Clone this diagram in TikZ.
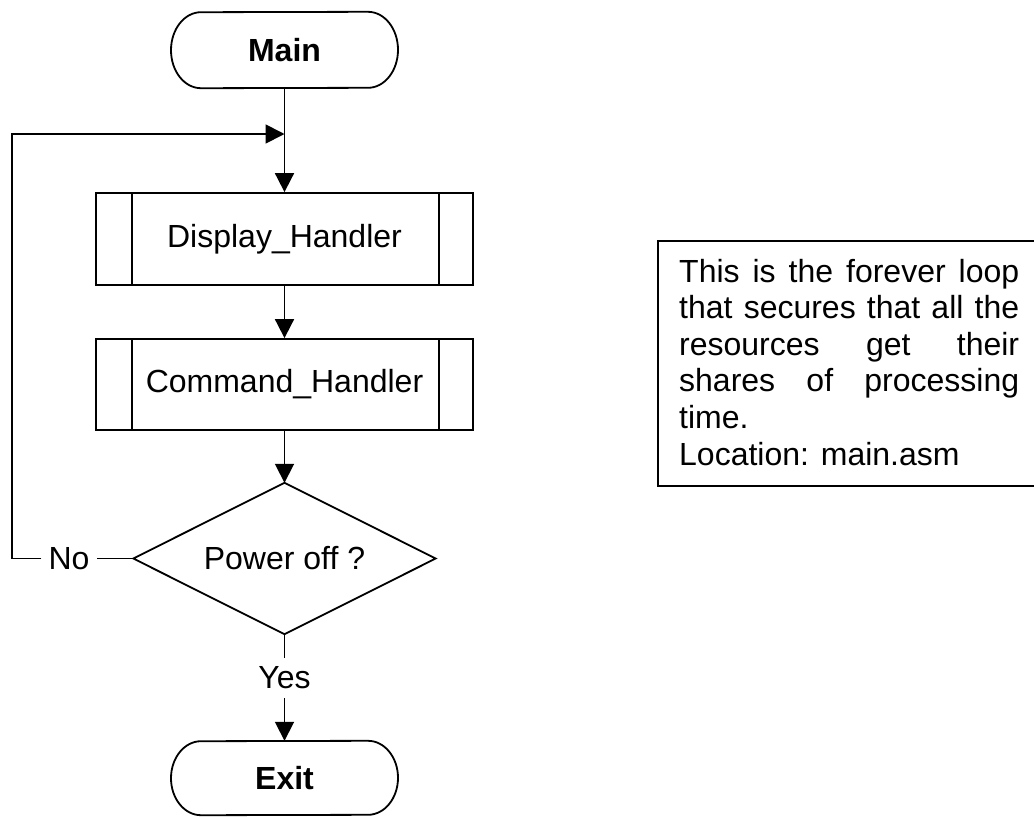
\documentclass[tikz,border=0pt]{standalone}
\usepackage{fontspec}
\setmainfont{Liberation Sans}
\usetikzlibrary{arrows.meta}

% outline of a start/end terminal: straight top and bottom, elliptic ends
\newcommand\termoutline[3]{%
  \draw[line] ([xshift=-#2pt]#1.south) arc[start angle=90,end angle=270,x radius=30,y radius=#3]
    -- ([xshift=#2pt]#1.north) arc[start angle=-90,end angle=90,x radius=30,y radius=#3] -- cycle;}

\begin{document}
\begin{tikzpicture}[x=1pt,y=-1pt,
  line/.style={line width=1.8pt, line join=miter},
  flow/.style={line, -{Triangle[length=19pt,width=19pt]}},
  txt/.style={font=\fontsize{32}{38}\selectfont, inner sep=0pt},
  term/.style={txt, font=\fontsize{32}{38}\selectfont\bfseries, minimum width=227pt},
  proc/.style={txt, draw, line, minimum width=377pt},
  notetext/.style={font=\fontsize{32}{38}\selectfont, inner sep=0pt, anchor=base west}
]
\useasboundingbox (0,0) rectangle (1034,817);

% terminals
\node[term, minimum height=76pt] (main) at (284.5,50) {Main};
\termoutline{main}{83.5}{38}
\node[term, minimum height=74pt] (exit) at (284.5,778) {Exit};
\termoutline{exit}{83.5}{37}

% predefined processes
\node[proc, minimum height=92pt] (disp) at (284.5,239) {Display\_Handler};
\draw[line] ([xshift=37pt]disp.north west) -- ([xshift=37pt]disp.south west);
\draw[line] ([xshift=-35pt]disp.north east) -- ([xshift=-35pt]disp.south east);

\node[proc, minimum height=91pt] (cmd) at (284.5,384.5) {Command\_Handler};
\draw[line] ([xshift=37pt]cmd.north west) -- ([xshift=37pt]cmd.south west);
\draw[line] ([xshift=-35pt]cmd.north east) -- ([xshift=-35pt]cmd.south east);

% decision
\node[txt, minimum width=302pt, minimum height=151pt] (dec) at (284.5,558.5) {Power off ?};
\draw[line] (dec.north) -- (dec.east) -- (dec.south) -- (dec.west) -- cycle;

% branch labels
\node[txt, inner xsep=7pt, minimum height=30pt] (no) at (69,558.5) {No};
\node[txt, minimum height=40pt] (yes) at (284.5,678) {Yes};

% loop-back points
\coordinate (merge) at (284.5,134);
\coordinate (corner) at (12,134);

% connectors
\draw[flow] (main) -- (disp);
\draw[flow] (disp) -- (cmd);
\draw[flow] (cmd) -- (dec.north);
\draw[line] (dec.south) -- (yes);
\draw[flow] (yes) -- (exit);
\draw[line] (dec.west) -- (no);
\draw[flow] (no.west) -| (corner) -- (merge);

% comment box (runs off the right edge)
\draw[line] (1040,241) -| (658,486) -- (1040,486);
\node[notetext] (n1) at (679,282) {\hbox to 340pt{This\hfill is\hfill the\hfill forever\hfill loop}};
\node[notetext] (n2) at (679,318.6) {\hbox to 340pt{that\hfill secures\hfill that\hfill all\hfill the}};
\node[notetext] (n3) at (679,355.2) {\hbox to 340pt{resources\hfill get\hfill their}};
\node[notetext] (n4) at (679,391.8) {\hbox to 340pt{shares\hfill of\hfill processing}};
\node[notetext] (n5) at (679,428.4) {time.};
\node[notetext] (n6) at (679,465) {Location: main.asm};
\end{tikzpicture}
\end{document}
